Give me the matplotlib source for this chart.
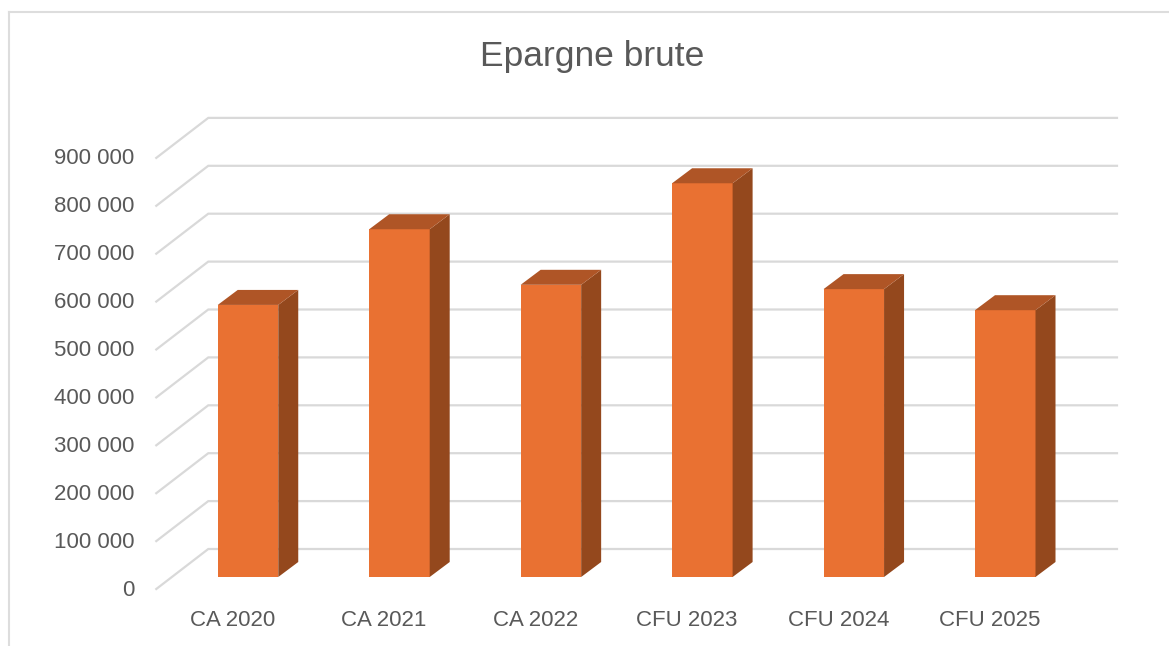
import matplotlib
matplotlib.use("Agg")
import matplotlib.pyplot as plt
from matplotlib.patches import Polygon
from matplotlib.lines import Line2D

categories = ["CA 2020", "CA 2021", "CA 2022", "CFU 2023", "CFU 2024", "CFU 2025"]
values = [568000, 726000, 610000, 822000, 601000, 557000]
y_ticks = [0, 100000, 200000, 300000, 400000, 500000, 600000, 700000, 800000, 900000]
y_labels = ["0", "100 000", "200 000", "300 000", "400 000", "500 000",
            "600 000", "700 000", "800 000", "900 000"]
title = "Epargne brute"

W, H = 1169, 646
FONT = "Liberation Sans"
TEXT = "#595959"
GRID = "#D9D9D9"
FRONT = "#E97132"
SIDE = "#94481D"
TOP = "#AF5526"

PX_PER_CAT = 151.45
PX_PER_UNIT = 47.9 / 100000
LEFT_PX = 248 - PX_PER_CAT / 2
BASE_PX = 577

fig = plt.figure(figsize=(W / 100, H / 100), dpi=100, facecolor="white")
ax_w = 6 * PX_PER_CAT
ax_h = 1000000 * PX_PER_UNIT
ax = fig.add_axes([LEFT_PX / W, (H - BASE_PX) / H, ax_w / W, ax_h / H])
ax.set_xlim(-0.5, 5.5)
ax.set_ylim(0, 1000000)
ax.axis("off")

def dx(px):
    return px / PX_PER_CAT

def dy(px):
    return px / PX_PER_UNIT

# Outer chart frame
fig.add_artist(Line2D([9 / W, 9 / W], [0, 1 - 12 / H], color="#DDDDDD", lw=1.5))
fig.add_artist(Line2D([9 / W, 1], [1 - 12 / H, 1 - 12 / H], color="#DDDDDD", lw=1.5))

# Gridlines: front diagonal on the floor edge, then along the back wall
for v in y_ticks:
    xs = [-0.5 + dx(-16), -0.5 + dx(36), 5.5 + dx(36)]
    ys = [v - dy(12), v + dy(28), v + dy(28)]
    ax.plot(xs, ys, color=GRID, lw=1.6, clip_on=False, zorder=1, solid_joinstyle="miter")

# 3-D columns
half = 60.5 / PX_PER_CAT / 2
d_x, d_y = dx(20), dy(15)
ax.bar(range(len(values)), values, width=2 * half, color=FRONT, zorder=3, linewidth=0)
for i, v in enumerate(values):
    l, r = i - half, i + half
    ax.add_patch(Polygon([(r, 0), (r + d_x, d_y), (r + d_x, v + d_y), (r, v)],
                         closed=True, fc=SIDE, ec="none", zorder=3, clip_on=False))
    ax.add_patch(Polygon([(l, v), (r, v), (r + d_x, v + d_y), (l + d_x, v + d_y)],
                         closed=True, fc=TOP, ec="none", zorder=3, clip_on=False))

# Value axis labels
for v, lab in zip(y_ticks, y_labels):
    ax.text(-0.5 + dx(-38), v - dy(13), lab, ha="right", va="center", fontsize=16,
            family=FONT, color=TEXT, clip_on=False)

# Category labels
for i, lab in enumerate(categories):
    ax.text(i + dx(-15.5), -dy(43.5), lab, ha="center", va="center", fontsize=16,
            family=FONT, color=TEXT, clip_on=False)

fig.text(592 / W, 1 - 56.5 / H, title, ha="center", va="center", fontsize=25.5,
         family=FONT, color=TEXT)

fig.savefig("out.png", dpi=100, facecolor="white")
